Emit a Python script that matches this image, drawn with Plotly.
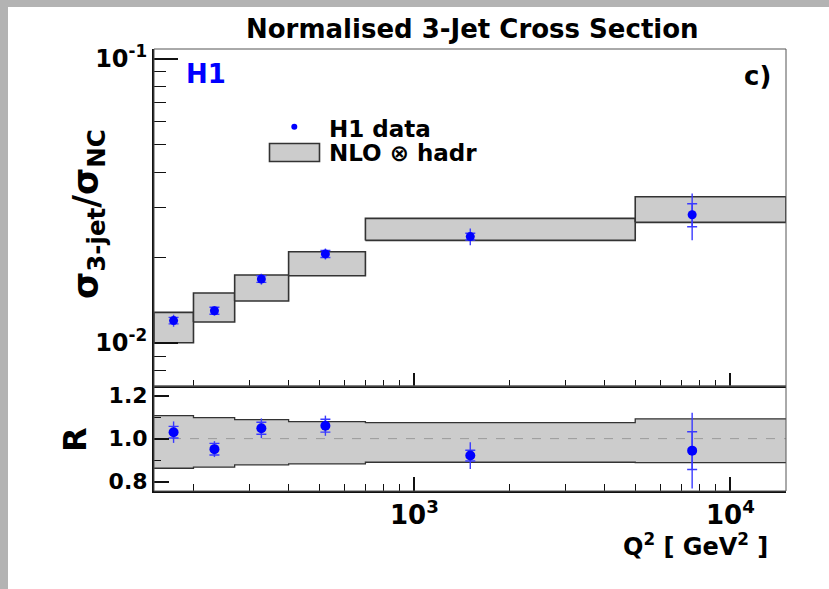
import math
import plotly.graph_objects as go
from plotly.subplots import make_subplots

# Q^2 bins [GeV^2] and bin centres of the measurement
bin_edges = [150, 200, 270, 400, 700, 5000, 15000]
q2_points = [173, 233, 328, 523, 1503, 7570]

# Normalised 3-jet cross section sigma_3jet / sigma_NC
xsec = [0.0120, 0.0130, 0.0168, 0.0206, 0.0237, 0.0283]

# NLO x hadronisation prediction band (lower / upper edge per bin)
nlo_lo = [0.01003, 0.01186, 0.01406, 0.01726, 0.02298, 0.0266]
nlo_hi = [0.01283, 0.0150, 0.01736, 0.02097, 0.02748, 0.03273]

# Ratio data / NLO with statistical and total uncertainties
ratio = [1.030, 0.951, 1.048, 1.060, 0.921, 0.944]
ratio_stat = [0.027, 0.027, 0.028, 0.030, 0.025, 0.088]
ratio_tot = [0.050, 0.037, 0.046, 0.047, 0.062, 0.176]

# Relative theory uncertainty band in the ratio panel
band_lo = [0.862, 0.867, 0.878, 0.882, 0.890, 0.888]
band_hi = [1.107, 1.098, 1.088, 1.079, 1.074, 1.092]

# Axis tick labels
x_ticks = [1000, 10000]
x_ticktext = ["10<sup>3</sup>", "10<sup>4</sup>"]
y_ticks = [0.01, 0.1]
y_ticktext = ["10<sup>-2</sup>", "10<sup>-1</sup>"]
r_ticks = [0.8, 1.0, 1.2]
r_ticktext = ["0.8", "1.0", "1.2"]

FONT = "DejaVu Sans"
BLUE = "#0000ff"
ERR = "#3a3aff"
FILL = "#cccccc"
EDGE = "#333333"

W, H = 829, 589
L, R, T, B = 154, 43, 49, 98
PW, PH = W - L - R, H - T - B


def px(xp):
    return (xp - L) / PW


def py(yp):
    return (H - B - yp) / PH


split = py(386)

fig = make_subplots(rows=2, cols=1, shared_xaxes=False, vertical_spacing=0)
fig.update_layout(yaxis=dict(domain=[split, 1]), yaxis2=dict(domain=[0, split]))

# --- upper panel: NLO boxes per bin
for i in range(len(xsec)):
    x0, x1 = bin_edges[i], bin_edges[i + 1]
    fig.add_trace(go.Scatter(
        x=[x0, x1, x1, x0, x0], y=[nlo_lo[i], nlo_lo[i], nlo_hi[i], nlo_hi[i], nlo_lo[i]],
        mode="lines", fill="toself", fillcolor=FILL, line=dict(color=EDGE, width=1.6),
        hoverinfo="skip", showlegend=False), row=1, col=1)

xsec_tot = [v * e / r for v, e, r in zip(xsec, ratio_tot, ratio)]
xsec_stat = [v * e / r for v, e, r in zip(xsec, ratio_stat, ratio)]

fig.add_trace(go.Scatter(
    x=q2_points, y=xsec, mode="markers",
    marker=dict(size=1, color=BLUE),
    error_y=dict(type="data", array=xsec_tot, color=ERR, thickness=1.4, width=0),
    showlegend=False), row=1, col=1)
fig.add_trace(go.Scatter(
    x=q2_points, y=xsec, mode="markers",
    marker=dict(size=9, color=BLUE),
    error_y=dict(type="data", array=xsec_stat, color=ERR, thickness=1.4, width=5),
    showlegend=False), row=1, col=1)

# --- lower panel: theory band as a stepped region
fig.add_trace(go.Scatter(
    x=bin_edges, y=band_lo + [band_lo[-1]], mode="lines", line_shape="hv",
    line=dict(color=EDGE, width=1.3), hoverinfo="skip", showlegend=False), row=2, col=1)
fig.add_trace(go.Scatter(
    x=bin_edges, y=band_hi + [band_hi[-1]], mode="lines", line_shape="hv",
    fill="tonexty", fillcolor=FILL,
    line=dict(color=EDGE, width=1.3), hoverinfo="skip", showlegend=False), row=2, col=1)
fig.add_trace(go.Scatter(
    x=[bin_edges[0], bin_edges[-1]], y=[1.0, 1.0], mode="lines",
    line=dict(color="#9a9a9a", width=1, dash="dash"), hoverinfo="skip",
    showlegend=False), row=2, col=1)

fig.add_trace(go.Scatter(
    x=q2_points, y=ratio, mode="markers",
    marker=dict(size=1, color=BLUE),
    error_y=dict(type="data", array=ratio_tot, color=ERR, thickness=1.4, width=0),
    showlegend=False), row=2, col=1)
fig.add_trace(go.Scatter(
    x=q2_points, y=ratio, mode="markers",
    marker=dict(size=10, color=BLUE),
    error_y=dict(type="data", array=ratio_stat, color=ERR, thickness=1.4, width=5),
    showlegend=False), row=2, col=1)

xr = [math.log10(bin_edges[0]), math.log10(bin_edges[-1])]
x_minor = [200, 300, 400, 500, 600, 700, 800, 900,
           2000, 3000, 4000, 5000, 6000, 7000, 8000, 9000]

axis_line = dict(showline=True, linecolor="#111111", linewidth=2, mirror=False,
                 showgrid=False, zeroline=False, ticks="inside", tickcolor="#111111",
                 tickwidth=1.6)


def bold(size):
    return dict(family=FONT, size=size, color="black", weight="bold")


fig.update_xaxes(type="log", range=xr, tickvals=x_ticks, ticktext=x_ticktext, **axis_line)
fig.update_xaxes(row=1, col=1, showticklabels=False, ticklen=13,
                 minor=dict(tickvals=x_minor, ticklen=6, ticks="inside",
                            tickcolor="#111111", tickwidth=1.4))
fig.update_xaxes(row=2, col=1, ticklen=14, tickfont=bold(26),
                 minor=dict(tickvals=x_minor, ticklen=7, ticks="inside",
                            tickcolor="#111111", tickwidth=1.4))

y_minor = [0.008, 0.009, 0.02, 0.03, 0.04, 0.05, 0.06, 0.07, 0.08, 0.09]
fig.update_yaxes(row=1, col=1, type="log", range=[-2.151, -0.965],
                 tickvals=y_ticks, ticktext=y_ticktext,
                 ticklen=24, tickfont=bold(24),
                 minor=dict(tickvals=y_minor, ticklen=12, ticks="inside",
                            tickcolor="#111111", tickwidth=1.4),
                 **axis_line)
fig.update_yaxes(row=2, col=1, range=[0.756, 1.245],
                 tickvals=r_ticks, ticktext=r_ticktext,
                 ticklen=15, tickfont=bold(22),
                 minor=dict(tickvals=[0.9, 1.1], ticklen=7, ticks="inside",
                            tickcolor="#111111", tickwidth=1.4),
                 **axis_line)

shapes = []
# thin frame around each panel
for xd, yd in (("x domain", "y domain"), ("x2 domain", "y2 domain")):
    shapes.append(dict(type="rect", xref=xd, yref=yd, x0=0, x1=1, y0=0, y1=1,
                       line=dict(color="#555555", width=1), layer="above"))
# grey canvas border
shapes.append(dict(type="rect", xref="paper", yref="paper", x0=px(0), x1=px(W),
                   y0=py(7), y1=py(0), fillcolor="#b3b3b3", line=dict(width=0)))
shapes.append(dict(type="rect", xref="paper", yref="paper", x0=px(0), x1=px(8),
                   y0=py(H), y1=py(0), fillcolor="#b3b3b3", line=dict(width=0)))
# legend symbols
shapes.append(dict(type="circle", xref="paper", yref="paper",
                   x0=px(291.3), x1=px(297.3), y0=py(129.7), y1=py(123.7),
                   fillcolor=BLUE, line=dict(width=0)))
shapes.append(dict(type="rect", xref="paper", yref="paper",
                   x0=px(269.5), x1=px(319.5), y0=py(161.5), y1=py(143.5),
                   fillcolor=FILL, line=dict(color=EDGE, width=1.6)))

ann_font = dict(family=FONT, color="black")
annotations = [
    dict(text="<b>Normalised 3-Jet Cross Section</b>", x=px(472), y=py(29),
         xanchor="center", yanchor="middle", font=dict(size=26, **ann_font)),
    dict(text="<b>H1</b>", x=px(184), y=py(74), xanchor="left", yanchor="middle",
         font=dict(family=FONT, size=26, color=BLUE)),
    dict(text="<b>c)</b>", x=px(773), y=py(76), xanchor="right", yanchor="middle",
         font=dict(size=26, **ann_font)),
    dict(text="<b>H1 data</b>", x=px(327), y=py(129), xanchor="left", yanchor="middle",
         font=dict(size=23, **ann_font)),
    dict(text="<b>NLO \u2297 hadr</b>", x=px(327), y=py(153), xanchor="left",
         yanchor="middle", font=dict(size=23, **ann_font)),
    dict(text="<b>\u03c3<sub>3-jet</sub>/\u03c3<sub>NC</sub></b>", x=px(88), y=py(214),
         xanchor="center", yanchor="middle", textangle=-90,
         font=dict(size=35, **ann_font)),
    dict(text="<b>R</b>", x=px(75), y=py(440), xanchor="center", yanchor="middle",
         textangle=-90, font=dict(size=32, **ann_font)),
    dict(text="<b>Q<sup>2</sup> [ GeV<sup>2</sup> ]</b>", x=px(770), y=py(545),
         xanchor="right", yanchor="middle", font=dict(size=24, **ann_font)),
]
for a in annotations:
    a.update(xref="paper", yref="paper", showarrow=False)

fig.update_layout(
    width=W, height=H, margin=dict(l=L, r=R, t=T, b=B),
    paper_bgcolor="white", plot_bgcolor="white",
    font=dict(family=FONT, color="black"),
    shapes=shapes, annotations=annotations, showlegend=False,
)

fig.write_html("out.html")
